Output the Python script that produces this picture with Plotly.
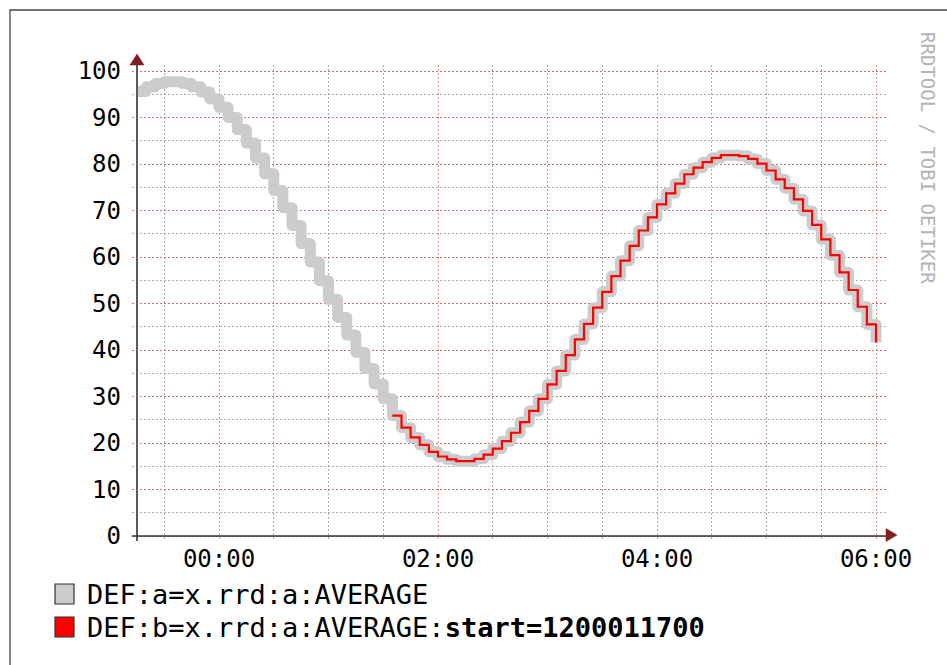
import pandas as pd
import plotly.graph_objects as go

# ---- data -------------------------------------------------------------
# 5-minute averages of x.rrd:a, first step starts 23:15; the last entry
# closes the final step at 06:00.
a_start = "2008-01-10 23:15"
a_values = [
    95.6, 96.6, 97.3, 97.7, 97.7, 97.3, 96.6, 95.5, 94.0,
    92.2, 90.0, 87.4, 84.5, 81.3, 77.9, 74.3, 70.6, 66.8, 62.9,
    58.9, 54.9, 50.9, 47.0, 43.2, 39.5, 36.0, 32.7, 29.5,
    25.9, 23.3, 21.2, 19.6, 18.1, 17.1, 16.5, 16.1, 16.1, 16.6,
    17.5, 18.8, 20.4, 22.2, 24.5, 26.9, 29.5, 32.6, 35.5, 38.9,
    42.3, 45.6, 49.1, 52.5, 55.9, 59.2, 62.4, 65.7,
    68.5, 71.3, 73.7, 75.8, 77.8, 79.2, 80.4, 81.3, 81.9,
    81.9, 81.7, 81.1, 80.1, 78.6, 76.7, 74.8, 72.4, 69.9, 66.9,
    63.8, 60.4, 56.7, 52.9, 49.3, 45.5, 41.6,
]

# same rrd fetched with start=1200011700 (01:35 local time)
b_start = "2008-01-11 01:35"
b_values = [
    25.9, 23.3, 21.2, 19.6, 18.1, 17.1, 16.5, 16.1, 16.1, 16.6,
    17.5, 18.8, 20.4, 22.2, 24.5, 26.9, 29.5, 32.6, 35.5, 38.9,
    42.3, 45.6, 49.1, 52.5, 55.9, 59.2, 62.4, 65.7,
    68.5, 71.3, 73.7, 75.8, 77.8, 79.2, 80.4, 81.3, 81.9,
    81.9, 81.7, 81.1, 80.1, 78.6, 76.7, 74.8, 72.4, 69.9, 66.9,
    63.8, 60.4, 56.7, 52.9, 49.3, 45.5, 41.6,
]

legend_a = "DEF:a=x.rrd:a:AVERAGE"
legend_b = "DEF:b=x.rrd:a:AVERAGE:<b>start=1200011700</b>"
watermark = "RRDTOOL / TOBI OETIKER"

y_ticks = list(range(0, 101, 10))

# ---- geometry (pixels in a 947 x 665 page) ----------------------------
W, H = 947, 665
PL, PR, PT, PB = 132, 886, 65, 541          # plot area incl. grid overhang
X0_PX, PX_PER_HOUR = 219, 109.5              # 00:00 position, scale
Y0_PX, PX_PER_UNIT = 536, 4.65               # value 0 position, scale

midnight = pd.Timestamp("2008-01-11 00:00")
x_range = [midnight + pd.Timedelta(hours=(PL - X0_PX) / PX_PER_HOUR),
           midnight + pd.Timedelta(hours=(PR - X0_PX) / PX_PER_HOUR)]
y_range = [(Y0_PX - PB) / PX_PER_UNIT, (Y0_PX - PT) / PX_PER_UNIT]


def px(x):
    return (x - PL) / (PR - PL)


def py(y):
    return (PB - y) / (PB - PT)


a_time = pd.date_range(a_start, periods=len(a_values), freq="5min")
b_time = pd.date_range(b_start, periods=len(b_values), freq="5min")

FONT = "DejaVu Sans Mono"
GRID = "rgba(143,143,143,0.75)"
MGRID = "rgba(222,79,79,0.6)"
ARROW = "#7f1f1f"

fig = go.Figure()
fig.add_trace(go.Scatter(
    x=a_time, y=a_values, mode="lines", line_shape="hv",
    line=dict(color="#cccccc", width=11), hoverinfo="skip",
))
fig.add_trace(go.Scatter(
    x=b_time, y=b_values, mode="lines", line_shape="hv",
    line=dict(color="#ff0000", width=2.2), hoverinfo="skip",
))

shapes = [
    # outer frame
    dict(type="rect", xref="paper", yref="paper",
         x0=px(10), y0=py(10), x1=px(W + 40), y1=py(H + 40),
         line=dict(color="#444444", width=1.3), fillcolor="rgba(0,0,0,0)",
         layer="below"),
    # y axis + arrow
    dict(type="line", xref="paper", yref="paper",
         x0=px(137), x1=px(137), y0=py(PB), y1=py(PT),
         line=dict(color="#5a5a5a", width=2)),
    dict(type="path", xref="paper", yref="paper",
         path=f"M {px(130)} {py(65)} L {px(144)} {py(65)} L {px(137)} {py(54)} Z",
         fillcolor=ARROW, line=dict(color=ARROW, width=0.5)),
    # x axis + arrow
    dict(type="line", xref="paper", yref="paper",
         x0=px(PL), x1=px(PR), y0=py(Y0_PX), y1=py(Y0_PX),
         line=dict(color="#333333", width=1.5)),
    dict(type="path", xref="paper", yref="paper",
         path=f"M {px(886)} {py(528.5)} L {px(886)} {py(541.5)} L {px(897)} {py(535)} Z",
         fillcolor=ARROW, line=dict(color=ARROW, width=0.5)),
    # legend swatches
    dict(type="rect", xref="paper", yref="paper",
         x0=px(55), x1=px(74), y0=py(584), y1=py(604),
         fillcolor="#cccccc", line=dict(color="#333333", width=1.2)),
    dict(type="rect", xref="paper", yref="paper",
         x0=px(55), x1=px(74), y0=py(617), y1=py(637),
         fillcolor="#ff0000", line=dict(color="#333333", width=1.2)),
]

annotations = [
    dict(text=legend_a, xref="paper", yref="paper", x=px(86), y=py(594),
         xanchor="left", yanchor="middle", showarrow=False, borderpad=0,
         font=dict(family=FONT, size=27, color="#000000")),
    dict(text=legend_b, xref="paper", yref="paper", x=px(86), y=py(627),
         xanchor="left", yanchor="middle", showarrow=False, borderpad=0,
         font=dict(family=FONT, size=27, color="#000000")),
    dict(text=watermark, xref="paper", yref="paper", x=px(928), y=py(158),
         xanchor="center", yanchor="middle", showarrow=False, textangle=90,
         borderpad=0, font=dict(family=FONT, size=19, color="#b4b4b4")),
]

fig.update_layout(
    width=W, height=H,
    margin=dict(l=PL, r=W - PR, t=PT, b=H - PB, pad=0),
    paper_bgcolor="#ffffff", plot_bgcolor="#ffffff",
    showlegend=False,
    font=dict(family=FONT, size=24, color="#000000"),
    shapes=shapes, annotations=annotations,
    xaxis=dict(
        type="date", range=x_range, tickformat="%H:%M",
        tick0="2008-01-11 00:00", dtick=2 * 3600 * 1000,
        showgrid=True, gridcolor=MGRID, griddash="2px,2px", gridwidth=1,
        minor=dict(dtick=30 * 60 * 1000, tick0="2008-01-11 00:00",
                   showgrid=True, gridcolor=GRID, griddash="2px,2px",
                   gridwidth=1),
        showline=False, zeroline=False, ticks="",
        ticklabelstandoff=1,
        tickfont=dict(family=FONT, size=24, color="#000000"),
    ),
    yaxis=dict(
        range=y_range, tickvals=y_ticks,
        showgrid=True, gridcolor=MGRID, griddash="2px,2px", gridwidth=1,
        minor=dict(dtick=5, tick0=0, showgrid=True, gridcolor=GRID,
                   griddash="2px,2px", gridwidth=1),
        showline=False, zeroline=False, ticks="",
        ticklabelstandoff=10,
        tickfont=dict(family=FONT, size=24, color="#000000"),
    ),
)

# round joins on the wide grey step line (first scatter trace)
post = (
    "var s=document.createElement('style');"
    "s.textContent='.scatterlayer .trace:first-child path.js-line"
    "{stroke-linejoin:round !important;}';"
    "document.head.appendChild(s);"
)
fig.write_html("out.html", post_script=post)
